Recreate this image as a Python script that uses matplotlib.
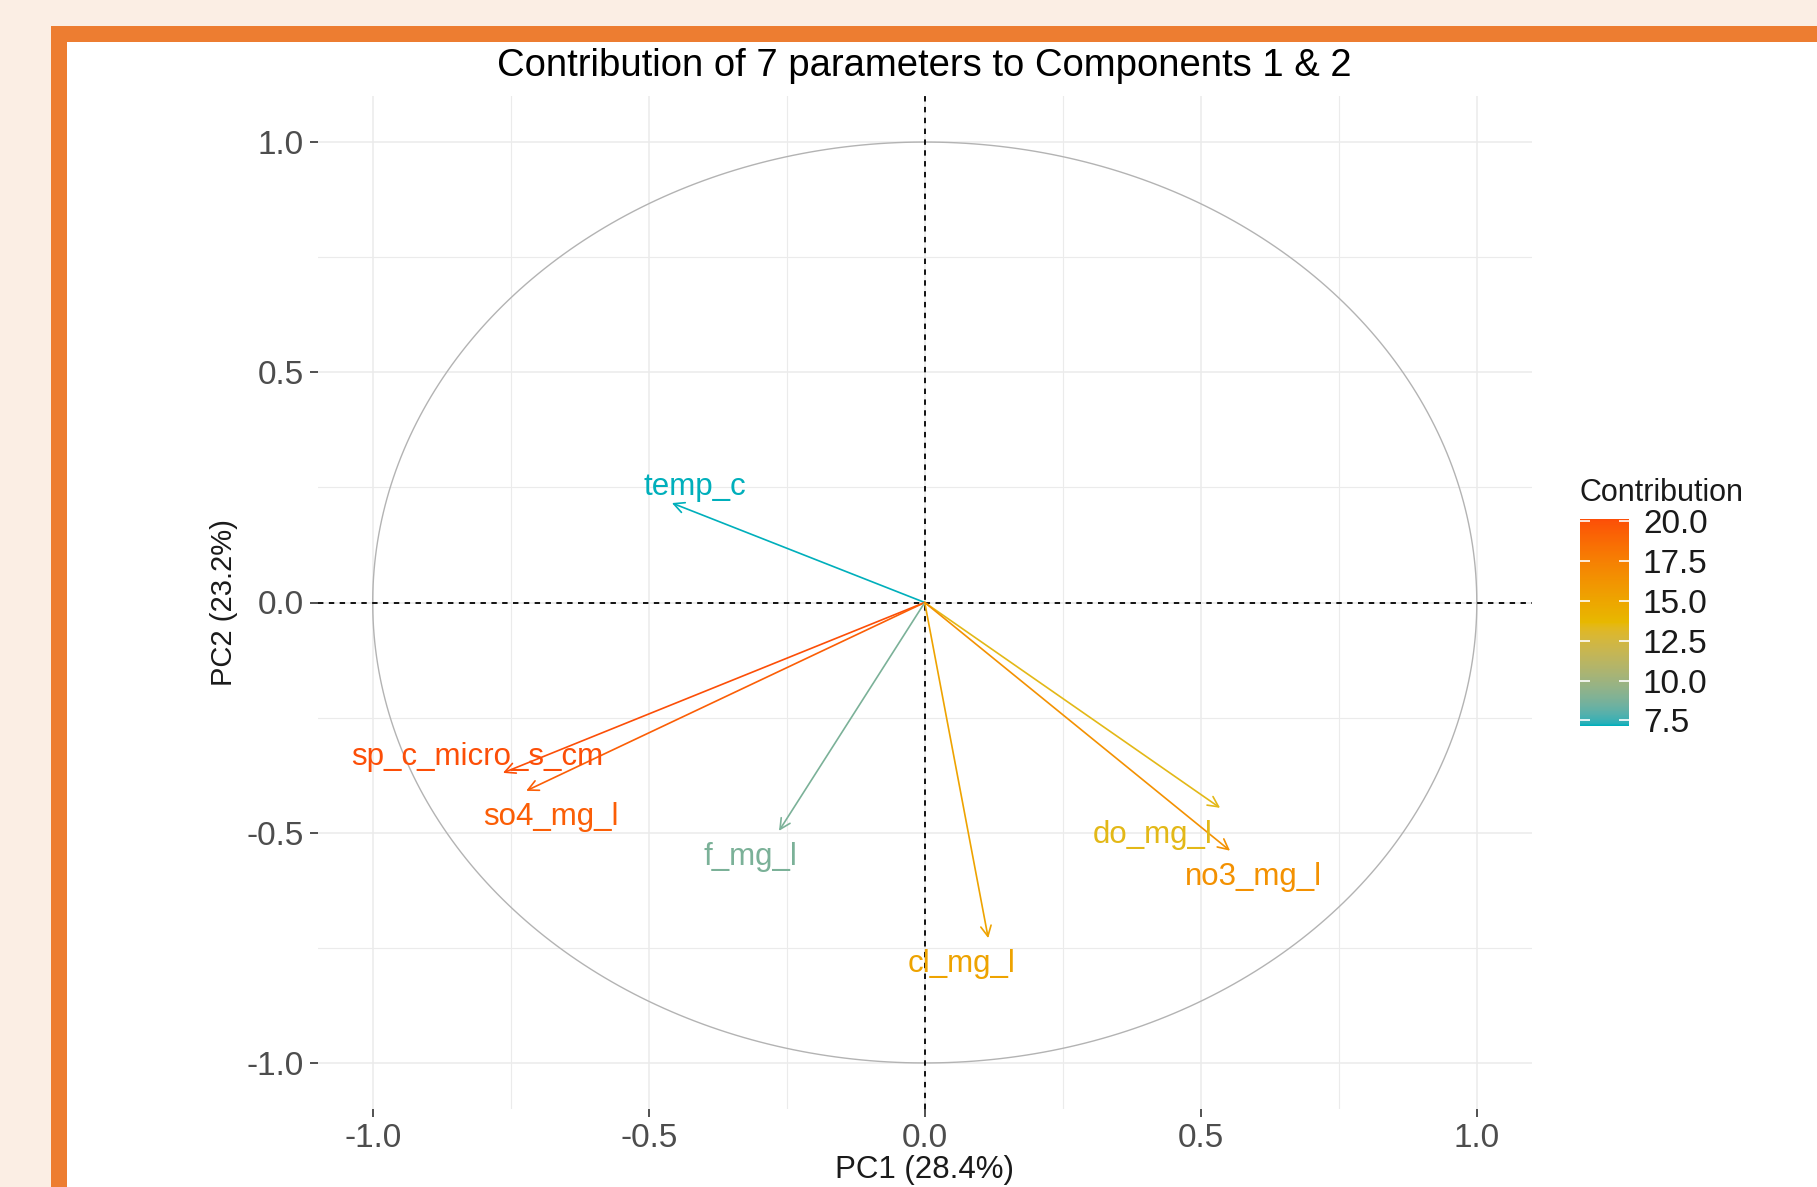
import numpy as np
import matplotlib
matplotlib.use('Agg')
from matplotlib import pyplot as plt
from matplotlib import colors as mcolors
from matplotlib.patches import Rectangle

plt.rcParams['font.family'] = ['Liberation Sans', 'DejaVu Sans']

# Coordinate delle variabili sulle prime due componenti
variables = ['temp_c', 'sp_c_micro_s_cm', 'so4_mg_l', 'f_mg_l', 'cl_mg_l', 'do_mg_l', 'no3_mg_l']
pc1 = [-0.458, -0.764, -0.722, -0.264, 0.115, 0.535, 0.553]
pc2 = [0.216, -0.370, -0.409, -0.496, -0.729, -0.446, -0.539]
contrib = [7.15, 20.15, 19.4, 8.8, 15.2, 13.4, 16.4]
# posizioni delle etichette (ggrepel)
label_x = [-0.416, -0.810, -0.677, -0.315, 0.067, 0.412, 0.595]
label_y = [0.251, -0.335, -0.465, -0.552, -0.785, -0.504, -0.596]

grad_cols = ['#00AFBB', '#E7B800', '#FC4E07']
cbar_ticks = [7.5, 10.0, 12.5, 15.0, 17.5, 20.0]
major_ticks = [-1.0, -0.5, 0.0, 0.5, 1.0]
minor_ticks = [-0.75, -0.25, 0.25, 0.75]

W, H = 1817, 1187


# interpolazione in spazio Lab, come fa ggplot
WHITE = np.array([0.95047, 1.0, 1.08883])
M = np.array([[0.4124, 0.3576, 0.1805], [0.2126, 0.7152, 0.0722], [0.0193, 0.1192, 0.9505]])


def to_lab(c):
    rgb = np.array(mcolors.to_rgb(c))
    lin = np.where(rgb <= 0.04045, rgb / 12.92, ((rgb + 0.055) / 1.055) ** 2.4)
    t = M @ lin / WHITE
    f = np.where(t > (6 / 29) ** 3, np.cbrt(t), t / (3 * (6 / 29) ** 2) + 4 / 29)
    return np.array([116 * f[1] - 16, 500 * (f[0] - f[1]), 200 * (f[1] - f[2])])


def from_lab(lab):
    fy = (lab[0] + 16) / 116
    f = np.array([fy + lab[1] / 500, fy, fy - lab[2] / 200])
    t = np.where(f > 6 / 29, f ** 3, 3 * (6 / 29) ** 2 * (f - 4 / 29)) * WHITE
    lin = np.linalg.solve(M, t)
    rgb = np.where(lin <= 0.0031308, 12.92 * lin, 1.055 * np.clip(lin, 0, None) ** (1 / 2.4) - 0.055)
    return np.clip(rgb, 0, 1)


labs = [to_lab(c) for c in grad_cols]
cols = []
for s in np.linspace(0, 1, 256):
    seg = min(int(s * 2), 1)
    u = s * 2 - seg
    cols.append(from_lab(labs[seg] * (1 - u) + labs[seg + 1] * u))
cmap = mcolors.ListedColormap(cols)
norm = mcolors.Normalize(vmin=min(contrib), vmax=max(contrib))

fig = plt.figure(figsize=(W / 100, H / 100), dpi=100, facecolor='#FBEEE4')
# cornice arancione
fig.patches.append(Rectangle((51 / W, 0), 1, 1 - 26 / H, transform=fig.transFigure,
                             facecolor='#ED7D31', edgecolor='none', zorder=-2))
fig.patches.append(Rectangle((67 / W, 0), 1, 1 - 42 / H, transform=fig.transFigure,
                             facecolor='white', edgecolor='none', zorder=-1))

ax = fig.add_axes([317.5 / W, 1 - 1109 / H, 1214.5 / W, 1013 / H])
ax.set_facecolor('none')
ax.set_xlim(-1.1, 1.1)
ax.set_ylim(-1.1, 1.1)
for sp in ax.spines.values():
    sp.set_visible(False)

ax.set_xticks(major_ticks)
ax.set_yticks(major_ticks)
ax.set_xticks(minor_ticks, minor=True)
ax.set_yticks(minor_ticks, minor=True)
ax.set_xticklabels(['-1.0', '-0.5', '0.0', '0.5', '1.0'])
ax.set_yticklabels(['-1.0', '-0.5', '0.0', '0.5', '1.0'])
ax.tick_params(which='major', length=6, width=1.2, color='#333333', labelcolor='#4D4D4D',
               labelsize=24, pad=4)
ax.tick_params(which='minor', length=0)
ax.grid(which='major', color='#EBEBEB', lw=1.1)
ax.grid(which='minor', color='#EBEBEB', lw=0.8)
ax.set_axisbelow(True)

# cerchio di correlazione
th = np.linspace(0, 2 * np.pi, 400)
ax.plot(np.cos(th), np.sin(th), color='#B3B3B3', lw=1.0, zorder=1)
ax.axhline(0, color='black', lw=1.3, ls=(0, (3, 3)), zorder=2)
ax.axvline(0, color='black', lw=1.3, ls=(0, (3, 3)), zorder=2)

for name, x, y, c, lx, ly in zip(variables, pc1, pc2, contrib, label_x, label_y):
    col = cmap(norm(c))
    ax.annotate('', xy=(x, y), xytext=(0, 0),
                arrowprops=dict(arrowstyle='->,head_length=0.5,head_width=0.25', color=col,
                                lw=1.2, shrinkA=0, shrinkB=0, mutation_scale=15), zorder=3)
    ax.text(lx, ly, name, color=col, fontsize=22.5, ha='center', va='center', zorder=4)

ax.set_xlabel('PC1 (28.4%)', fontsize=22.5, color='#1A1A1A', va='center')
ax.xaxis.set_label_coords(0.5, (1109 - 1170) / 1013)
ax.set_ylabel('PC2 (23.2%)', fontsize=21, color='#1A1A1A', va='center')
ax.yaxis.set_label_coords((224 - 317.5) / 1214.5, 0.5)

fig.text(924.5 / W, 1 - 66 / H, 'Contribution of 7 parameters to Components 1 & 2',
         fontsize=27.5, color='black', ha='center', va='center')

# barra dei colori
cax = fig.add_axes([1580 / W, 1 - 726 / H, 49 / W, 207 / H])
sm = plt.cm.ScalarMappable(norm=norm, cmap=cmap)
cb = fig.colorbar(sm, cax=cax, ticks=cbar_ticks)
cb.outline.set_visible(False)
cb.ax.set_yticklabels(['%.1f' % t for t in cbar_ticks])
cax.tick_params(direction='in', length=7, width=1.2, color='white', left=True, right=True,
                labelsize=24, labelcolor='#1A1A1A', pad=10)
fig.text(1579 / W, 1 - 493 / H, 'Contribution', fontsize=22, color='#1A1A1A',
         ha='left', va='center')

plt.savefig('out.png', dpi=100, facecolor=fig.get_facecolor())
